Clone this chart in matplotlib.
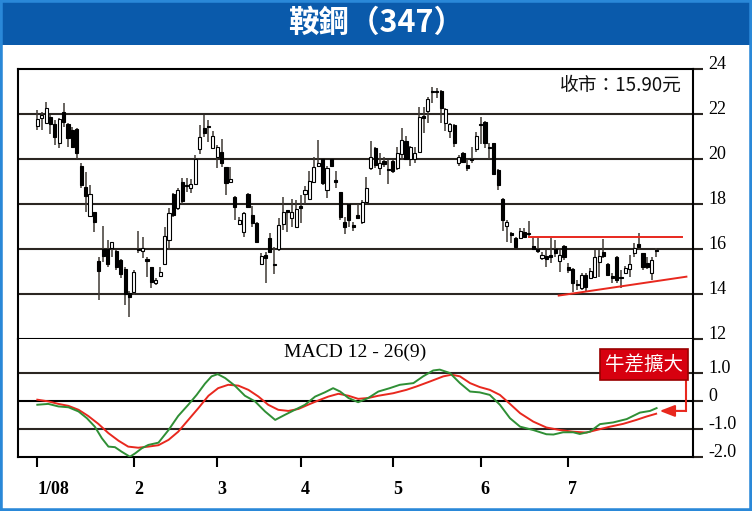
import numpy as np
import matplotlib
matplotlib.use('Agg')
import matplotlib.pyplot as plt
from matplotlib.patches import Rectangle

plt.rcParams['font.family'] = ['Liberation Serif', 'DejaVu Serif']
CJK = ['Noto Sans CJK TC', 'DejaVu Sans']

# Daily candles (trading day index 0..141)
opens = [21.48, 21.81, 21.59, 21.85, 21.54, 20.70, 22.10, 21.54, 21.29, 21.32,
         19.69, 18.77, 17.48, 17.63, 15.47, 16.00, 16.00, 16.03, 15.91, 15.51,
         15.11, 14.03, 14.10, 15.96, 15.90, 15.48, 15.19, 14.47, 14.80, 15.32,
         16.40, 18.43, 17.81, 18.99, 18.80, 18.70, 18.89, 20.43, 21.36, 21.41,
         20.50, 20.10, 20.30, 19.63, 18.96, 18.33, 17.11, 16.74, 18.44, 17.51,
         17.14, 15.33, 15.73, 16.47, 15.29, 16.00, 17.10, 17.66, 17.39, 16.99,
         17.91, 18.43, 18.21, 18.99, 19.69, 19.99, 18.62, 19.99, 18.99, 18.52,
         17.19, 17.99, 16.99, 17.51, 17.19, 18.10, 19.59, 20.47, 19.59, 19.93,
         19.51, 19.91, 19.59, 20.21, 20.81, 19.99, 19.99, 20.30, 21.84, 22.13,
         22.96, 22.96, 23.02, 21.59, 21.24, 21.51, 19.81, 20.28, 19.73, 19.96,
         20.43, 21.51, 21.63, 20.47, 20.70, 19.51, 18.21, 17.02, 16.71, 16.50,
         16.47, 16.77, 16.65, 16.13, 16.00, 15.59, 15.70, 15.66, 15.99, 15.48,
         16.13, 15.21, 15.10, 14.40, 14.28, 14.84, 14.70, 14.74, 15.44, 15.85,
         15.33, 14.73, 15.63, 14.70, 14.95, 15.10, 15.84, 16.22, 15.81, 15.39,
         14.92, 15.95]
highs = [22.18, 22.10, 22.52, 21.96, 21.73, 21.81, 22.47, 21.59, 21.44, 21.36,
         19.81, 19.44, 18.84, 17.66, 15.66, 17.02, 16.40, 16.33, 15.96, 15.54,
         15.21, 14.13, 15.07, 16.81, 16.55, 15.66, 15.21, 14.70, 15.21, 17.00,
         17.81, 18.47, 18.70, 19.14, 19.14, 19.10, 20.18, 21.51, 21.96, 21.73,
         21.26, 20.62, 20.87, 19.66, 19.63, 18.36, 17.44, 17.66, 18.47, 17.91,
         17.21, 15.81, 15.88, 16.70, 16.07, 17.36, 18.33, 17.70, 18.21, 18.18,
         18.40, 18.80, 19.48, 20.07, 20.84, 20.01, 19.69, 20.01, 19.47, 18.55,
         17.44, 18.03, 17.19, 18.00, 18.18, 19.19, 20.81, 20.55, 20.28, 20.07,
         19.96, 19.96, 20.52, 21.36, 21.02, 20.58, 20.52, 22.30, 22.33, 22.74,
         23.19, 23.14, 23.07, 22.25, 21.59, 21.54, 20.18, 20.33, 19.99, 20.55,
         21.21, 21.85, 21.70, 20.73, 20.73, 19.54, 18.25, 17.29, 16.77, 16.55,
         16.92, 16.92, 17.24, 16.52, 16.52, 15.88, 15.96, 16.47, 16.40, 15.96,
         16.18, 15.36, 15.14, 14.62, 14.92, 14.92, 15.14, 15.96, 15.96, 16.43,
         15.36, 14.92, 15.69, 15.07, 15.26, 15.73, 16.28, 16.70, 15.84, 15.66,
         15.66, 16.03]
lows = [21.29, 21.29, 21.59, 21.11, 20.62, 20.47, 21.44, 20.55, 20.47, 20.00,
        18.70, 17.66, 17.48, 16.77, 13.73, 15.44, 15.19, 15.66, 15.07, 14.70,
        13.51, 12.99, 13.96, 15.84, 15.59, 14.77, 14.25, 14.40, 14.77, 15.32,
        15.96, 17.44, 17.73, 18.00, 18.55, 18.50, 18.89, 20.22, 20.96, 20.77,
        20.47, 19.59, 19.66, 18.40, 18.92, 17.29, 17.07, 16.55, 17.81, 16.99,
        16.28, 15.29, 14.47, 15.88, 14.87, 15.91, 16.84, 16.77, 16.99, 16.99,
        17.17, 18.00, 18.21, 18.99, 19.63, 18.84, 18.25, 19.69, 18.70, 17.29,
        16.67, 16.99, 16.81, 17.33, 17.11, 17.99, 19.51, 19.59, 19.29, 19.66,
        18.89, 19.39, 19.51, 19.96, 19.96, 19.69, 19.81, 20.30, 21.14, 21.59,
        22.50, 22.70, 21.59, 21.26, 20.92, 20.52, 19.69, 19.81, 19.48, 19.81,
        20.33, 20.67, 20.47, 19.99, 19.29, 18.62, 16.81, 16.33, 16.28, 16.03,
        16.44, 16.55, 16.55, 16.01, 15.81, 15.51, 15.19, 15.36, 15.66, 14.99,
        15.51, 14.92, 14.10, 14.18, 14.18, 14.10, 14.70, 14.70, 14.77, 15.59,
        14.80, 14.50, 14.47, 14.25, 14.92, 14.77, 15.66, 15.96, 15.07, 15.10,
        14.62, 15.66]
closes = [21.76, 21.96, 22.25, 21.54, 20.96, 21.78, 21.63, 20.92, 20.55, 20.28,
          18.84, 18.36, 18.43, 17.21, 15.04, 15.69, 15.33, 16.30, 15.21, 14.87,
          13.99, 13.85, 14.98, 15.96, 16.03, 15.48, 14.52, 14.62, 14.96, 16.58,
          17.59, 17.51, 18.62, 18.15, 18.80, 18.89, 19.99, 20.96, 21.14, 21.41,
          21.02, 20.52, 19.81, 18.92, 19.11, 17.88, 17.29, 17.61, 17.88, 17.14,
          16.33, 15.70, 15.59, 15.88, 15.29, 17.07, 17.66, 17.66, 17.66, 17.76,
          17.81, 18.62, 19.04, 19.63, 19.81, 18.95, 19.59, 19.69, 18.99, 17.44,
          16.99, 17.29, 16.99, 17.39, 18.10, 18.70, 20.07, 19.73, 19.84, 19.78,
          19.51, 19.47, 20.25, 20.84, 19.99, 20.52, 20.28, 21.85, 21.84, 22.65,
          22.96, 22.96, 22.25, 22.21, 21.54, 20.73, 20.10, 19.88, 19.59, 19.96,
          21.02, 21.51, 20.70, 20.47, 19.33, 18.84, 17.29, 17.21, 16.61, 16.07,
          16.80, 16.55, 16.65, 16.01, 15.91, 15.73, 15.56, 15.66, 15.84, 15.73,
          15.63, 15.07, 14.50, 14.40, 14.84, 14.33, 15.04, 15.63, 15.69, 15.69,
          14.84, 14.73, 14.62, 14.70, 15.14, 15.33, 16.03, 16.07, 15.19, 15.21,
          15.51, 15.90]

month_ticks = [0, 22, 41, 60, 81, 101, 121]
month_labels = ['1/08', '2', '3', '4', '5', '6', '7']

# resistance / support lines drawn on the chart
resist_x = [112.1, 147.0]
resist_y = [16.52, 16.52]
support_x = [118.8, 147.9]
support_y = [13.93, 14.77]

# MACD (DIF, green) and signal (DEA, red)
dif_x = [0, 2.5, 4.8, 7.1, 9.4, 11.3, 13.1, 14.7, 16.2, 17.7, 19.2, 21.1, 22.3,
         23.8, 25.3, 27.6, 29.9, 32.1, 34.4, 36.3, 38.2, 39.7, 41.1, 42.8, 45.0,
         47.3, 49.6, 51.9, 54.2, 56.4, 58.7, 61.0, 63.3, 65.5, 67.4, 69.0, 70.9,
         73.1, 75.4, 77.7, 80.3, 82.6, 85.7, 87.9, 90.2, 91.7, 94.0, 96.3, 98.6,
         100.8, 103.1, 105.4, 107.7, 110.0, 113.0, 116.0, 117.6, 119.8, 122.1,
         123.6, 125.9, 128.2, 131.2, 134.3, 137.3, 139.6, 141.1]
dif_y = [-0.14, -0.11, -0.20, -0.23, -0.38, -0.62, -0.92, -1.33, -1.63, -1.65,
         -1.81, -1.99, -1.87, -1.69, -1.57, -1.49, -1.04, -0.54, -0.14, 0.21,
         0.61, 0.87, 0.95, 0.81, 0.54, 0.18, -0.02, -0.38, -0.68, -0.50, -0.32,
         -0.14, 0.15, 0.30, 0.45, 0.33, 0.10, -0.05, 0.10, 0.33, 0.45, 0.57,
         0.63, 0.87, 1.08, 1.11, 0.99, 0.63, 0.33, 0.30, 0.21, -0.14, -0.62,
         -0.92, -1.04, -1.19, -1.20, -1.12, -1.12, -1.18, -1.10, -0.83, -0.77,
         -0.65, -0.42, -0.36, -0.26]
dea_x = [0, 2.5, 4.8, 7.1, 9.4, 11.6, 13.9, 16.2, 18.5, 20.7, 23.0, 25.3, 27.6,
         29.9, 32.1, 34.4, 36.7, 39.0, 41.2, 43.5, 45.8, 48.1, 50.4, 52.6, 54.9,
         57.2, 59.5, 61.7, 64.0, 66.3, 68.6, 70.9, 73.1, 75.4, 77.7, 81.1, 84.1,
         86.4, 89.5, 92.5, 94.4, 96.3, 98.6, 100.8, 103.1, 105.4, 107.7, 110.0,
         113.0, 116.0, 119.1, 122.1, 125.1, 127.4, 130.5, 133.5, 136.5, 138.8,
         141.0]
dea_y = [0.04, -0.02, -0.11, -0.18, -0.32, -0.54, -0.82, -1.15, -1.42, -1.63,
         -1.67, -1.63, -1.58, -1.39, -1.10, -0.68, -0.26, 0.18, 0.45, 0.57, 0.54,
         0.39, 0.15, -0.14, -0.32, -0.36, -0.29, -0.14, 0.01, 0.15, 0.25, 0.18,
         0.07, 0.10, 0.18, 0.27, 0.39, 0.51, 0.69, 0.87, 0.93, 0.87, 0.63, 0.49,
         0.39, 0.21, -0.11, -0.44, -0.74, -0.95, -1.04, -1.10, -1.13, -1.04,
         -0.92, -0.82, -0.68, -0.56, -0.46]

RED = '#e8281e'
GREEN = '#2f8f35'
GRID = '#2b2622'
W, H = 752, 511

fig = plt.figure(figsize=(W / 100, H / 100), dpi=100)
fig.patch.set_facecolor('white')

# title bar and outer frame
fig.patches.append(Rectangle((0, 1 - 45 / H), 1, 45 / H, transform=fig.transFigure,
                             facecolor='#0a5aab', edgecolor='none', zorder=0))
fig.patches.append(Rectangle((0, 0), 1, 1, transform=fig.transFigure, fill=False,
                             edgecolor='#2a88d8', linewidth=4, zorder=5))
fig.text(0.5, 1 - 23 / H, '鞍鋼（347）', family=CJK, fontsize=22, fontweight='bold',
         color='white', ha='center', va='center')

left, right = 18 / W, 693 / W
ax = fig.add_axes([left, 1 - 339 / H, right - left, 270 / H])
ax2 = fig.add_axes([left, 1 - 457 / H, right - left, 118 / H])

# ---- candlesticks ----
x = np.arange(len(opens))
o = np.array(opens)
c = np.array(closes)
bottoms = np.minimum(o, c)
heights = np.maximum(np.abs(c - o), 0.06)
faces = ['white' if cc > oo else 'black' for oo, cc in zip(o, c)]

ax.vlines(x, lows, highs, color='#3f3934', lw=1.1, zorder=2)
ax.bar(x, heights, bottom=bottoms, width=0.7, color=faces, edgecolor='black',
       linewidth=0.8, zorder=3)

for v in [14, 16, 18, 20, 22]:
    ax.axhline(v, color=GRID, lw=1.5, zorder=1)

ax.plot(resist_x, resist_y, color=RED, lw=1.4, zorder=4)
ax.plot(support_x, support_y, color=RED, lw=1.4, zorder=4)

ax.text(146.9, 23.29, '收市：15.90元', family=CJK, fontsize=13.5, ha='right',
        va='center', color='#111111')

xlim = (-4.4, 149.4)
ax.set_xlim(*xlim)
ax.set_ylim(12, 24)
ax.yaxis.tick_right()
ax.set_yticks([12, 14, 16, 18, 20, 22, 24])
ax.tick_params(axis='y', length=7, width=1.5, direction='out', labelsize=13, pad=4,
               color=GRID)
ax.tick_params(axis='x', bottom=False, labelbottom=False)
plt.setp(ax.get_yticklabels(), va='baseline')
for s in ax.spines.values():
    s.set_linewidth(1.5)
    s.set_color('black')

# ---- MACD ----
ax2.plot(dea_x, dea_y, color=RED, lw=1.4, zorder=3)
ax2.plot(dif_x, dif_y, color=GREEN, lw=1.4, zorder=3)
for v in [1, -1]:
    ax2.axhline(v, color=GRID, lw=1.5, zorder=1)
ax2.axhline(0, color='black', lw=1.5, zorder=1)

ax2.text(72.4, 1.71, 'MACD 12 - 26(9)', fontsize=14, ha='center', va='center')

ax2.text(138.2, 1.29, '牛差擴大', family=CJK, fontsize=14, color='white',
         ha='center', va='center', zorder=6,
         bbox=dict(boxstyle='square,pad=0.25', fc='#d7000f', ec='#9a0000', lw=1.2))
ax2.plot([147.8, 147.8], [0.71, -0.36], color=RED, lw=1.5, zorder=5)
ax2.annotate('', xy=(141.8, -0.36), xytext=(147.8, -0.36),
             arrowprops=dict(arrowstyle='-|>,head_length=0.9,head_width=0.35',
                             color=RED, lw=1.5, shrinkA=0, shrinkB=0))

ax2.set_xlim(*xlim)
ax2.set_ylim(-2, 2.2)
ax2.yaxis.tick_right()
ax2.set_yticks([-2, -1, 0, 1], ['-2.0', '-1.0', '0', '1.0'])
ax2.tick_params(axis='y', length=7, width=1.5, direction='out', labelsize=13, pad=4,
                color=GRID)
plt.setp(ax2.get_yticklabels(), va='baseline')
ax2.set_xticks(month_ticks, month_labels)
ax2.tick_params(axis='x', length=7, width=1.5, direction='out', labelsize=13, pad=10)
plt.setp(ax2.get_xticklabels(), ha='left', fontweight='bold')
for s in ax2.spines.values():
    s.set_linewidth(1.5)
    s.set_color('black')
ax2.spines['top'].set_visible(False)

fig.savefig('out.png', dpi=100)
